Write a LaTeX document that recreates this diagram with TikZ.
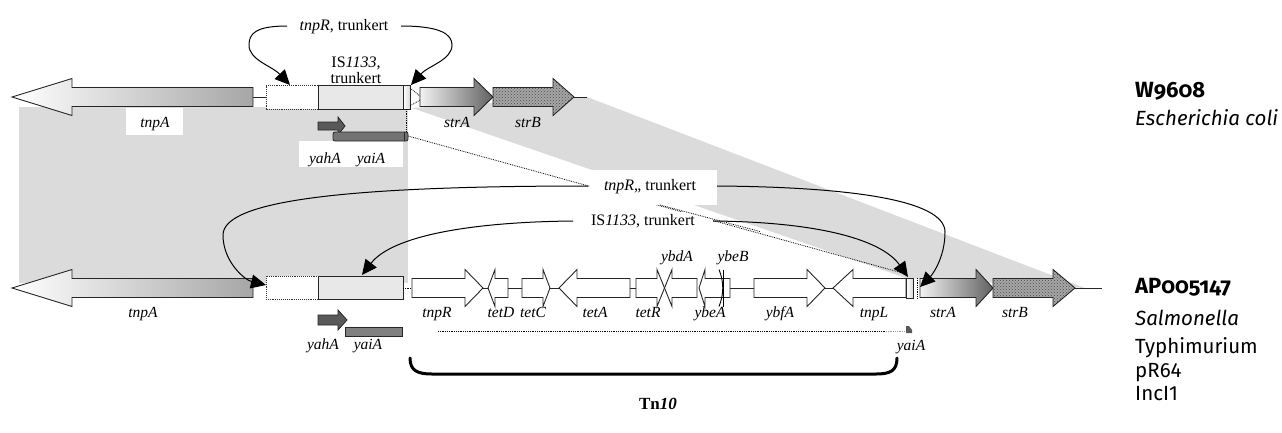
\documentclass[tikz,border=0pt]{standalone}
\usepackage{fontspec}
\setmainfont{Liberation Serif}
\newfontfamily\strainfont{Fira Sans}[Numbers=OldStyle]
\newfontfamily\infofont{Fira Sans}
\usetikzlibrary{arrows.meta,patterns}
\tikzset{
  grayband/.style={fill=black!14, draw=none},
  geneout/.style={draw=black!85, line width=0.9pt, line join=miter},
  whitegene/.style={geneout, fill=white},
  tnpagene/.style={geneout, left color=white, right color=black!35},
  stragene/.style={geneout, left color=black!5, right color=black!62},
  strbgene/.style={geneout, preaction={fill=black!35}, pattern=crosshatch dots, pattern color=black!70},
  isbox/.style={draw=black!85, line width=0.9pt, fill=black!9},
  dotbox/.style={draw=black!80, densely dotted, line width=0.9pt, fill=white},
  smallbox/.style={draw=black!85, line width=0.9pt, left color=white, right color=black!15},
  glab/.style={font=\fontsize{15.5}{17}\selectfont\itshape, inner sep=0pt, anchor=base},
  clab/.style={font=\fontsize{16}{18}\selectfont, inner sep=0pt, anchor=base},
  whitelab/.style={fill=white, inner sep=0pt},
  curvearrow/.style={line width=1pt, -{Triangle[length=15pt,width=14pt]}},
  link/.style={line width=0.9pt, draw=black!85},
  dotl/.style={densely dotted, line width=0.8pt},
  strain/.style={font=\strainfont\bfseries\fontsize{22}{24}\selectfont, inner sep=0pt, anchor=base west},
  info/.style={font=\infofont\fontsize{20.5}{22}\selectfont, inner sep=0pt, anchor=base west},
  infoit/.style={font=\infofont\itshape\fontsize{20.5}{22}\selectfont, inner sep=0pt, anchor=base west},
  bracket/.style={line width=3pt, line cap=round},
}
\newcommand\gene[5]{\path[#1] (#2,#5-9.5) -- (#3,#5-9.5) -- (#3,#5-18.5) -- (#4,#5) -- (#3,#5+18.5) -- (#3,#5+9.5) -- (#2,#5+9.5) -- cycle;}
\begin{document}
\begin{tikzpicture}[x=1pt,y=-1pt]
\useasboundingbox (0,0) rectangle (1282,432);
% shaded homology regions
\fill[grayband] (19,107) rectangle (408,283);
\fill[grayband] (412,108) -- (587,97) -- (1085,288) -- (906,278) -- cycle;
% white label patches
\fill[white] (126,108) rectangle (183,135);
\fill[white] (299,141) rectangle (403,167);
% dotted link between yaiA copies
\coordinate (yaitop) at (408,136);
\coordinate (yaibot) at (906,274);
\draw[dotl] (yaitop) -- (yaibot);

% ---------------- top row (W9608) ----------------
\draw[link] (253,97) -- (266,97);
\draw[link] (574,97) -- (587,97);
\gene{tnpagene}{253}{72}{12}{97}
\path[dotbox] (266,85.5) rectangle (318,109);
\path[isbox] (318,85.5) rectangle (403,109);
\path[smallbox] (403,85.5) rectangle (410,109);
\draw[dotl] (410,88) -- (420,96);
\draw[dotl] (410,106) -- (420,100);
\gene{stragene}{420}{474}{493}{97}
\gene{strbgene}{493}{553}{574}{97}
\draw[dotl] (406,109) -- (406,132);
\path[draw=black!85, line width=0.8pt, fill=black!65] (318,122) -- (338,122) -- (338,117) -- (345,126) -- (338,135) -- (338,130) -- (318,130) -- cycle;
\path[draw=black!85, line width=0.8pt, fill=black!55, rounded corners=2pt] (333,132) rectangle (408,141);
\draw[black!85, line width=0.6pt] (404,132) -- (404,141);

\node[glab] (tnpAt) at (155,127) {tnpA};
\node[glab] (strAt) at (457,127) {strA};
\node[glab] (strBt) at (528,127) {strB};
\node[glab] (yahAt) at (325,163) {yahA};
\node[glab] (yaiAt) at (371,163) {yaiA};

\node[clab] (tnprtop) at (344,30) {\textit{tnpR}, trunkert};
\node[clab] (istop1) at (356,67) {IS\textit{1133},};
\node[clab] (istop2) at (356,83) {trunkert};
\coordinate (tl0) at (287,26);
\coordinate (tl1) at (290,85);
\coordinate (tr0) at (401,26);
\coordinate (tr1) at (411,85);
\draw[curvearrow] (tl0) .. controls (255,26) and (249,34) .. (249,45) .. controls (249,60) and (272,66) .. (tl1);
\draw[curvearrow] (tr0) .. controls (440,26) and (452,34) .. (452,45) .. controls (452,60) and (428,66) .. (tr1);

% ---------------- bottom row (AP005147) ----------------
\gene{tnpagene}{253}{72}{12}{288}
\path[dotbox] (266,276) rectangle (318,299);
\path[isbox] (318,276) rectangle (403,299);
\draw[dotl] (403,288) -- (412,288);
\gene{whitegene}{412}{465}{483}{288}
\draw[link] (483,288) -- (488,288);
\gene{whitegene}{508}{495}{488}{288}
\draw[link] (508,288) -- (522,288);
\gene{whitegene}{522}{543}{550}{288}
\draw[link] (550,288) -- (559,288);
\gene{whitegene}{630}{577}{559}{288}
\draw[link] (630,288) -- (636,288);
\gene{whitegene}{636}{657}{664.5}{288}
\gene{whitegene}{697}{672}{664.5}{288}
\gene{whitegene}{730}{705}{699}{288}
\draw[line width=0.9pt] (719,269.5) .. controls (724,282) and (724,294) .. (719,306.5);
\draw[line width=0.9pt] (723,269.5) -- (723,306.5);
\draw[link] (730,288) -- (754,288);
\gene{whitegene}{754}{807}{825}{288}
\draw[link] (825,288) -- (833,288);
\gene{whitegene}{906}{853}{833}{288}
\path[smallbox] (906,278) rectangle (913,298);
\draw[dotl] (917,278) -- (917,298);
\gene{stragene}{920}{976}{993}{288}
\gene{strbgene}{993}{1053}{1075}{288}
\draw[link] (1075,288) -- (1102,288);
\path[draw=black!85, line width=0.8pt, fill=black!65] (318,315) -- (338,315) -- (338,310) -- (347,320) -- (338,330) -- (338,325) -- (318,325) -- cycle;
\path[draw=black!85, line width=0.8pt, fill=black!50] (345,327) rectangle (402,336);
\draw[dotl] (438,331) -- (886,331);
\draw[dotl, black!40] (886,331) -- (905,331);
\path[fill=black!65] (906,333) -- (906,326) -- (909,326) -- (912,330) -- (912,333) -- cycle;

\node[glab] (tnpAb) at (143,317) {tnpA};
\node[glab] (tnpRb) at (437,317) {tnpR};
\node[glab] (tetDb) at (501,317) {tetD};
\node[glab] (tetCb) at (533,317) {tetC};
\node[glab] (tetAb) at (595,317) {tetA};
\node[glab] (tetRb) at (648,317) {tetR};
\node[glab] (ybeAb) at (710,317) {ybeA};
\node[glab] (ybfAb) at (780,317) {ybfA};
\node[glab] (tnpLb) at (874,317) {tnpL};
\node[glab] (strAb) at (943,317) {strA};
\node[glab] (strBb) at (1015,317) {strB};
\node[glab] (ybdAb) at (677,261) {ybdA};
\node[glab] (ybeBb) at (733,261) {ybeB};
\node[glab] (yahAb) at (323,349) {yahA};
\node[glab] (yaiAb) at (368,349) {yaiA};
\node[glab] (yaiAr) at (911,350) {yaiA};

% labels with white patches and their curves
\node[whitelab, minimum width=127pt, minimum height=35pt] (tnprbox) at (653,187.5) {};
\node[clab] (tnprbot) at (650,190) {\textit{tnpR},, trunkert};
\node[whitelab, minimum width=140pt, minimum height=17pt] (isbox) at (643,220) {};
\node[clab] (isbot) at (643,225) {IS\textit{1133}, trunkert};
\draw[dotl] (660,205) -- (760,231.5);
\coordinate (bl0) at (588,186);
\coordinate (bl1) at (266,285);
\coordinate (br0) at (717,186);
\coordinate (br1) at (920,287);
\coordinate (il0) at (573,221);
\coordinate (il1) at (362,275);
\coordinate (ir0) at (713,221);
\coordinate (ir1) at (908,277);
\draw[curvearrow] (bl0) .. controls (350,186) and (223,200) .. (223,235) .. controls (223,262) and (245,280) .. (bl1);
\draw[curvearrow] (br0) .. controls (850,187) and (945,200) .. (945,232) .. controls (945,258) and (932,275) .. (br1);
\draw[curvearrow] (il0) .. controls (470,222) and (392,236) .. (il1);
\draw[curvearrow] (ir0) .. controls (820,222) and (882,240) .. (ir1);

% Tn10 bracket
\coordinate (brl) at (410,358);
\coordinate (brr) at (897,358);
\draw[bracket] (brl) .. controls (410,371) and (418,374) .. (432,374) -- (876,374) .. controls (890,374) and (897,371) .. (brr);
\node[clab, font=\fontsize{17}{19}\selectfont\bfseries] (tn10) at (658,409) {Tn\textit{10}};

% strain labels
\node[strain] (w9608) at (1135,97) {W9608};
\node[infoit] (ecoli) at (1135,125) {Escherichia coli};
\node[strain] (ap) at (1135,293) {AP005147};
\node[infoit] (salm) at (1135,325) {Salmonella};
\node[info] (typh) at (1135,353) {Typhimurium};
\node[info] (pr64) at (1135,377) {pR64};
\node[info] (inci) at (1135,400) {IncI1};
\end{tikzpicture}
\end{document}
